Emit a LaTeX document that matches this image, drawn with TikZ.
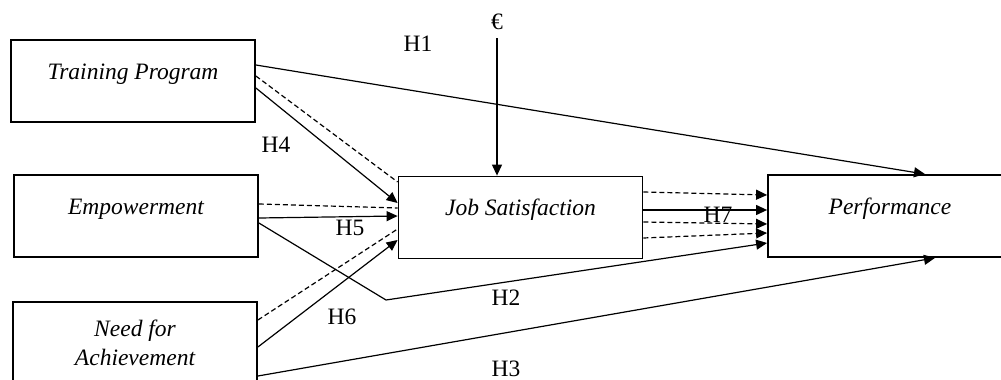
\documentclass[tikz,border=0pt]{standalone}
\usepackage{fontspec}
\setmainfont{Liberation Serif}
\usetikzlibrary{arrows.meta,calc}

\begin{document}
\fontsize{23.5}{29}\selectfont
\begin{tikzpicture}[x=1pt, y=-1pt]
    \tikzstyle{factor} = [draw, line width=1.8pt, minimum width=244pt, minimum height=82pt, text height=16pt, text depth=20pt, font=\itshape]
    \tikzstyle{link} = [line width=1.2pt, -{Triangle[length=11pt,width=10pt]}]
    \tikzstyle{dlink} = [line width=1.2pt, dash pattern=on 5pt off 3pt]
    \tikzstyle{darrow} = [dlink, -{Triangle[length=11pt,width=10pt]}]
    \tikzstyle{hyp} = [inner sep=0pt]

    \useasboundingbox (0,0) rectangle (1001,380);

    % Factors
    \node [factor] (tp) at (133,81) {Training Program};
    \node [factor] (emp) at (136,216) {Empowerment};
    \node [factor, align=center, text height=45pt, text depth=1pt] (nfa) at (135,343) {Need for\\Achievement};
    \node [factor] (js) at (520.5,217.5) {Job Satisfaction};
    \node [factor] (perf) at (890,216) {Performance};

    % Error term
    \node [hyp] (err) at (497,22) {€};
    \draw [link] ($(err.south)+(0,8)$) -- (err.south |- js.north);

    % Direct paths to performance
    \coordinate (bend) at (386,300);
    \draw [link] ($(tp.east)+(0,-16)$) -- ($(perf.north)+(35,0)$);
    \draw [link] ($(emp.east)+(0,7)$) -- (bend) -- ($(perf.west)+(0,27)$);
    \draw [link] ($(nfa.east)+(0,33)$) -- ($(perf.south)+(45,0)$);

    % Paths to job satisfaction
    \draw [dlink] ($(tp.east)+(0,-5)$) -- ($(js.west)+(0,-35.5)$);
    \draw [link] ($(tp.east)+(0,7)$) -- ($(js.west)+(0,-14.5)$);
    \draw [dlink] ($(emp.east)+(0,-12)$) -- ($(js.west)+(0,-9.5)$);
    \draw [link] ($(emp.east)+(0,2)$) -- ($(js.west)+(0,-1.5)$);
    \draw [dlink] ($(nfa.east)+(0,-23)$) -- ($(js.west)+(0,11.5)$);
    \draw [link] ($(nfa.east)+(0,4)$) -- ($(js.west)+(0,22.5)$);

    % Mediation to performance
    \draw [darrow] ($(js.east)+(0,-25.5)$) -- ($(perf.west)+(0,-21)$);
    \draw [link] ($(js.east)+(0,-7.5)$) -- ($(perf.west)+(0,-6)$);
    \draw [darrow] ($(js.east)+(0,4.5)$) -- ($(perf.west)+(0,8)$);
    \draw [darrow] ($(js.east)+(0,20.5)$) -- ($(perf.west)+(0,17)$);

    % Hypotheses
    \node [hyp] (h1) at (418,44) {H1};
    \node [hyp] (h2) at (506,298) {H2};
    \node [hyp] (h3) at (506,369) {H3};
    \node [hyp] (h4) at (276,145) {H4};
    \node [hyp] (h5) at (350,228) {H5};
    \node [hyp] (h6) at (342,317) {H6};
    \node [hyp] (h7) at (718,215) {H7};
\end{tikzpicture}
\end{document}
